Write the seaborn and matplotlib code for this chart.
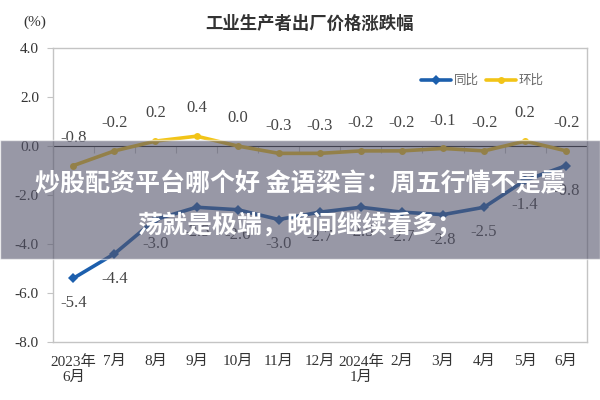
import numpy as np
import pandas as pd
import seaborn as sns
import matplotlib.pyplot as plt
from matplotlib.patches import Rectangle

months = ['2023年\n6月', '7月', '8月', '9月', '10月', '11月', '12月',
          '2024年\n1月', '2月', '3月', '4月', '5月', '6月']
yoy = [-5.4, -4.4, -3.0, -2.5, -2.6, -3.0, -2.7, -2.5, -2.7, -2.8, -2.5, -1.4, -0.8]
mom = [-0.8, -0.2, 0.2, 0.4, 0.0, -0.3, -0.3, -0.2, -0.2, -0.1, -0.2, 0.2, -0.2]

sns.set_style('white')
plt.rcParams['font.family'] = ['Liberation Serif', 'Noto Sans CJK SC', 'DejaVu Sans']

blue = '#1c5fad'
yellow = '#f2c417'
grey = '#c4c4c4'

df = pd.DataFrame({'month': months * 2,
                   'value': yoy + mom,
                   'kind': ['同比'] * len(months) + ['环比'] * len(months)})

fig = plt.figure(figsize=(6, 4), dpi=100)
ax = fig.add_axes([0.088, 0.145, 0.89, 0.735])

sns.lineplot(data=df, x='month', y='value', hue='kind', style='kind',
             palette={'同比': blue, '环比': yellow},
             markers={'同比': 'D', '环比': 'o'}, dashes=False,
             markersize=5, linewidth=2.6, markeredgewidth=0, sort=False, ax=ax)

ax.set_xlim(-0.5, len(months) - 0.5)
ax.set_ylim(-8, 4)
ax.set_yticks(np.arange(-8, 4.1, 2))
ax.set_yticklabels([f'{v:.1f}' for v in np.arange(-8, 4.1, 2)])
ax.set_xlabel('')
ax.set_ylabel('')
ax.tick_params(axis='y', left=True, length=4, width=0.8, color=grey,
               labelsize=11, labelcolor='#333333', pad=6)
ax.tick_params(axis='x', bottom=False, labelsize=11, labelcolor='#333333', pad=6)
for s in ax.spines.values():
    s.set_color(grey)
    s.set_linewidth(1.0)

# zero line with category ticks
sec = ax.secondary_xaxis(8 / 12)
sec.set_xticks(np.arange(-0.5, len(months), 1))
sec.set_xticklabels([])
sec.tick_params(direction='in', length=5, width=0.8, color=grey)
sec.spines['bottom'].set_color(grey)

for i, v in enumerate(yoy):
    ax.annotate(f'{v:.1f}', (i, v), xytext=(0, -18), textcoords='offset points',
                ha='center', va='center', fontsize=12, color='#444444')
for i, v in enumerate(mom):
    ax.annotate(f'{v:.1f}', (i, v), xytext=(0, 20), textcoords='offset points',
                ha='center', va='center', fontsize=12, color='#444444')

leg = ax.legend(loc='upper right', bbox_to_anchor=(0.94, 0.95), ncol=2, frameon=False,
                handlelength=2.4, handletextpad=0.2, columnspacing=0.6,
                prop={'family': ['Noto Sans CJK SC'], 'size': 9})
for t in leg.get_texts():
    t.set_color('#666666')

fig.text(0.515, 0.94, '工业生产者出厂价格涨跌幅', ha='center', va='center',
         fontsize=12.5, fontweight='bold', color='#333333', family=['Noto Sans CJK SC'])
fig.text(0.058, 0.945, '(%)', ha='center', va='center', fontsize=11, color='#333333')

# grey banner overlay
fig.patches.append(Rectangle((0, 1 - 259 / 400), 1, 119 / 400, transform=fig.transFigure,
                             facecolor=(0.33, 0.33, 0.42), alpha=0.6, zorder=10))
fig.text(0.5, 1 - 184 / 400, '炒股配资平台哪个好 金语梁言：周五行情不是震', ha='center', va='center',
         fontsize=18, fontweight='bold', color='white', family=['Noto Sans CJK SC'], zorder=11)
fig.text(0.5, 1 - 225 / 400, '荡就是极端，晚间继续看多；', ha='center', va='center',
         fontsize=18, fontweight='bold', color='white', family=['Noto Sans CJK SC'], zorder=11)

fig.savefig('out.png', dpi=100)
